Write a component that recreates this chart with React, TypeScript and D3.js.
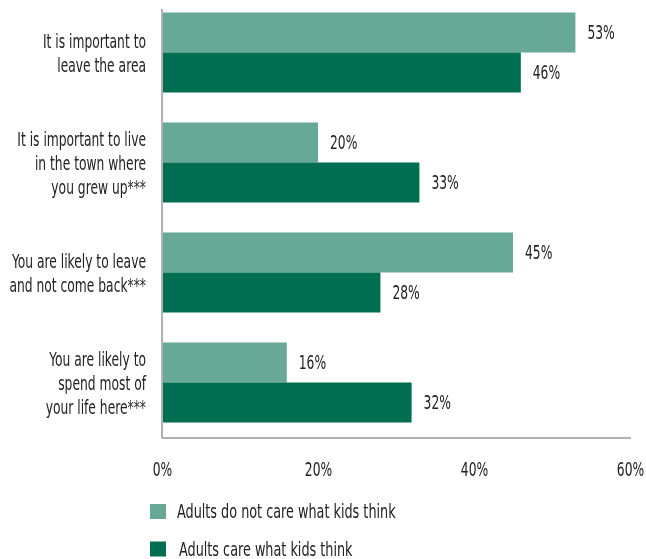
import * as d3 from "d3";
import React, { useEffect, useRef } from "react";

const categories = [
  ["It is important to", "leave the area"],
  ["It is important to live", "in the town where", "you grew up***"],
  ["You are likely to leave", "and not come back***"],
  ["You are likely to", "spend most of", "your life here***"],
];
const notCare = [53, 20, 45, 16];
const care = [46, 33, 28, 32];
const seriesNames = ["Adults do not care what kids think", "Adults care what kids think"];
const colors = ["#67a897", "#006e51"];
const xTicks = [0, 20, 40, 60];

const FONT = "'DejaVu Sans Condensed', 'DejaVu Sans', sans-serif";
const SQUEEZE = 0.72; // condensed look of the original font
const FS = 19;

export default function App() {
  const axisBottomRef = useRef<SVGGElement>(null);

  const width = 646;
  const height = 559;
  const x0 = 162;
  const x1 = 630;
  const axisY = 438;

  const scaleX = d3.scaleLinear().domain([0, 60]).range([x0, x1]);
  const keys = categories.map((_, i) => String(i));
  const scaleY = d3
    .scaleBand()
    .domain(keys)
    .range([12.5, 422.5])
    .paddingInner(30 / 110)
    .paddingOuter(0);
  const subY = d3.scaleBand().domain(["0", "1"]).range([0, scaleY.bandwidth()]);

  useEffect(() => {
    if (axisBottomRef.current) {
      const g = d3.select(axisBottomRef.current);
      g.call(
        d3
          .axisBottom(scaleX)
          .tickValues(xTicks)
          .tickSize(0)
          .tickPadding(25)
          .tickFormat((d) => `${d}%`)
      );
      g.select(".domain").remove();
      g.selectAll("text")
        .attr("fill", "#222")
        .attr("transform", `scale(${SQUEEZE},1)`)
        .style("font-family", FONT)
        .style("font-size", `${FS}px`);
    }
  }, []);

  const series = [notCare, care];

  const Label = ({
    x,
    y,
    anchor,
    sq = SQUEEZE,
    children,
  }: {
    x: number;
    y: number;
    anchor?: string;
    sq?: number;
    children: React.ReactNode;
  }) => (
    <g transform={`translate(${x},${y}) scale(${sq},1)`}>
      <text dy="0.36em" textAnchor={anchor || "start"} fontFamily={FONT} fontSize={FS} fill="#222">
        {children}
      </text>
    </g>
  );

  return (
    <div style={{ position: "fixed", left: 0, top: 0 }}>
      <svg width={width} height={height} style={{ display: "block" }}>
        {/* axes lines */}
        <line x1={x0} x2={x0} y1={9} y2={axisY} stroke="#999" strokeWidth={1.5} />
        <line x1={x0} x2={631} y1={axisY} y2={axisY} stroke="#999" strokeWidth={1.5} />

        {categories.map((lines, i) => {
          const gy = scaleY(String(i)) || 0;
          const center = gy + scaleY.bandwidth() / 2 + 1;
          const lh = 24;
          const start = center - ((lines.length - 1) * lh) / 2;
          return (
            <g key={`grp-${i}`}>
              {series.map((vals, s) => {
                const y = gy + (subY(String(s)) || 0);
                const w = scaleX(vals[i]) - x0;
                return (
                  <g key={`bar-${s}`}>
                    <rect x={x0 + 1} y={y} width={w - 1} height={subY.bandwidth()} fill={colors[s]} />
                    <Label x={scaleX(vals[i]) + 12} y={y + subY.bandwidth() / 2}>
                      {vals[i]}%
                    </Label>
                  </g>
                );
              })}
              {lines.map((t, k) => (
                <Label key={`lbl-${k}`} x={146} y={start + k * lh} anchor="end">
                  {t}
                </Label>
              ))}
            </g>
          );
        })}

        <g ref={axisBottomRef} transform={`translate(0, ${axisY})`} />

        {/* legend */}
        {seriesNames.map((name, s) => (
          <g key={`leg-${s}`} transform={`translate(150, ${504 + s * 37.5})`}>
            <rect width={16} height={15} fill={colors[s]} />
            <Label x={s === 0 ? 27 : 29} y={7.5} sq={0.75}>
              {name}
            </Label>
          </g>
        ))}
      </svg>
    </div>
  );
}
